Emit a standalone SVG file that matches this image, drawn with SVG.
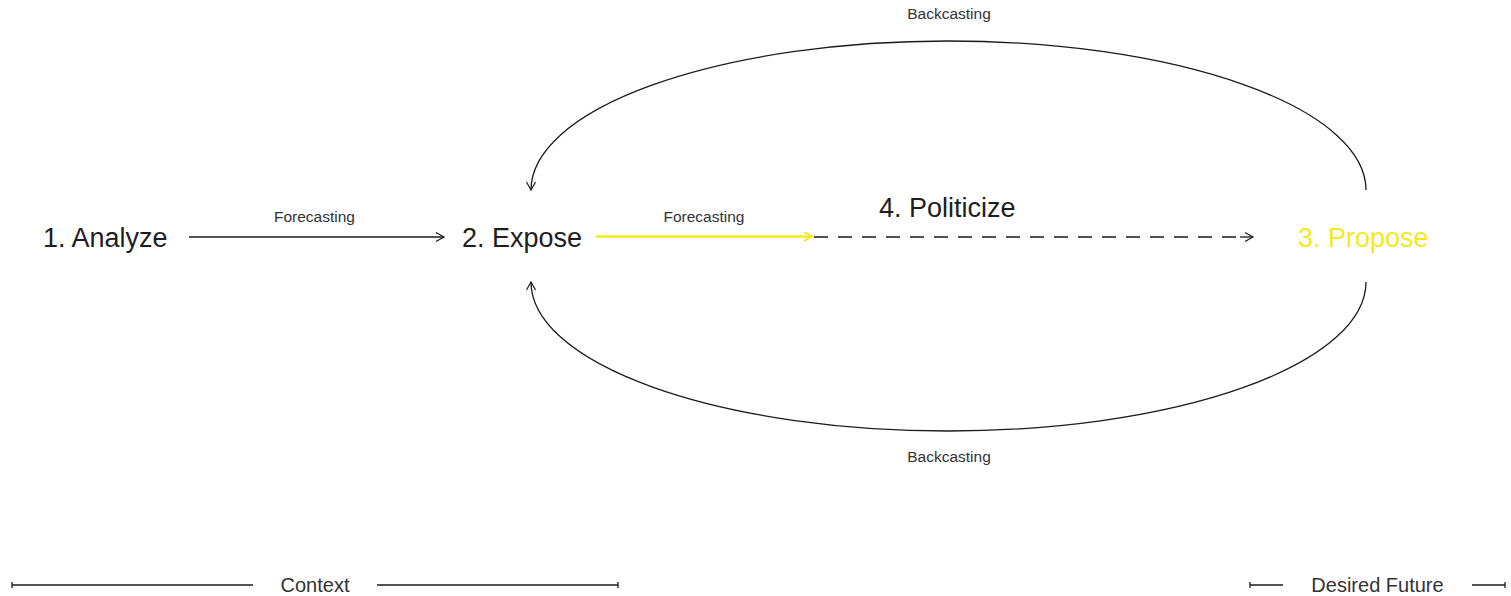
<svg xmlns="http://www.w3.org/2000/svg" width="1511" height="596" viewBox="0 0 1511 596">
<defs>
<style>
text{font-family:"Liberation Sans",Arial,sans-serif;fill:#1e1e1e}
.big{font-size:27px}
.small{font-size:15.5px;fill:#333}
.foot{font-size:20px;fill:#333}
.ln{fill:none;stroke:#1a1a1a;stroke-width:1.3}
.yl{fill:none;stroke:#f2ea1e;stroke-width:2.6}
</style>
<marker id="ah" markerUnits="userSpaceOnUse" markerWidth="12" markerHeight="12" refX="9" refY="5" orient="auto">
<path d="M1,0.5 L9,5 L1,9.5" fill="none" stroke="#1a1a1a" stroke-width="1.2"/>
</marker>
<marker id="ahy" markerUnits="userSpaceOnUse" markerWidth="12" markerHeight="12" refX="9" refY="5" orient="auto">
<path d="M1,0.5 L9,5 L1,9.5" fill="none" stroke="#f2ea1e" stroke-width="2"/>
</marker>
</defs>
<rect width="1511" height="596" fill="#ffffff"/>
<g id="connectors">
<line class="ln" x1="189" y1="237" x2="444" y2="237" marker-end="url(#ah)"/>
<line class="yl" x1="596" y1="236.5" x2="812" y2="236.5" marker-end="url(#ahy)"/>
<line class="ln" x1="814" y1="237" x2="1240" y2="237" stroke-dasharray="14 10"/>
<line class="ln" x1="1240" y1="237" x2="1253" y2="237" marker-end="url(#ah)"/>
<path class="ln" d="M1366,190 A417.5,149 0 0 0 531,190" marker-end="url(#ah)"/>
<path class="ln" d="M1366,282 A417.5,149 0 0 1 531,282" marker-end="url(#ah)"/>
<text class="small" x="314.5" y="222" text-anchor="middle">Forecasting</text>
<text class="small" x="704" y="222" text-anchor="middle">Forecasting</text>
<text class="small" x="949" y="19" text-anchor="middle">Backcasting</text>
<text class="small" x="949" y="462" text-anchor="middle">Backcasting</text>
</g>
<g id="node-analyze"><text class="big" x="43" y="247">1. Analyze</text></g>
<g id="node-expose"><text class="big" x="462" y="247">2. Expose</text></g>
<g id="node-politicize"><text class="big" x="879" y="217">4. Politicize</text></g>
<g id="node-propose"><text class="big" x="1298" y="247" style="fill:#f2ea1e">3. Propose</text></g>
<g id="scale-context">
<line class="ln" x1="12" y1="585" x2="253" y2="585"/>
<line class="ln" x1="12" y1="582" x2="12" y2="588"/>
<line class="ln" x1="377" y1="585" x2="618" y2="585"/>
<line class="ln" x1="618" y1="582" x2="618" y2="588"/>
<text class="foot" x="315" y="592" text-anchor="middle">Context</text>
</g>
<g id="scale-future">
<line class="ln" x1="1250" y1="585" x2="1283" y2="585"/>
<line class="ln" x1="1250" y1="582" x2="1250" y2="588"/>
<line class="ln" x1="1472" y1="585" x2="1505" y2="585"/>
<line class="ln" x1="1505" y1="582" x2="1505" y2="588"/>
<text class="foot" x="1377.5" y="592" text-anchor="middle">Desired Future</text>
</g>
</svg>
